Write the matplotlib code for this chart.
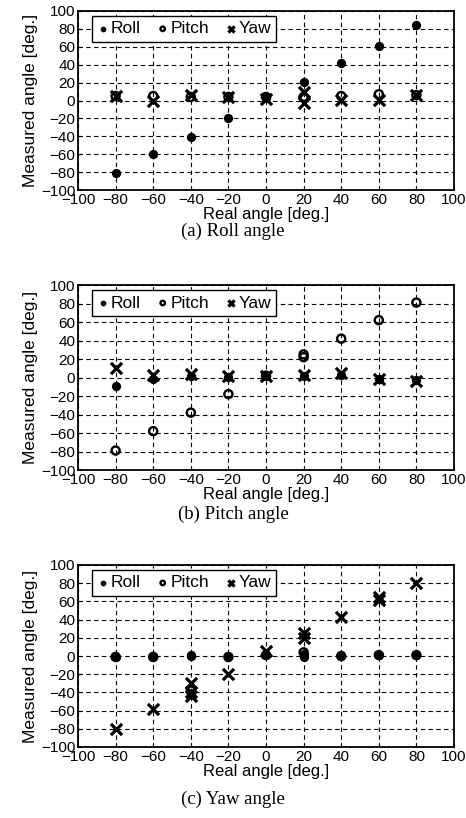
import numpy as np
import matplotlib
matplotlib.use("Agg")
import matplotlib.pyplot as plt

plt.rcParams['font.family'] = ['Liberation Sans', 'DejaVu Sans']

# real angles (deg.)
real = [-80, -60, -40, -20, 0, 20, 40, 60, 80]

# (a) roll angle test
roll_a = [-81, -60, -41, -19, 3, 21, 42, 61, 84]
pitch_a = [5, 5, 4, 4, 4, 4, 5, 7, 6]
yaw_a_x = [-80, -60, -40, -20, 0, 20, 20, 40, 60, 80]
yaw_a = [5, 0, 6, 4, 2, 10, -3, 1, 1, 6]

# (b) pitch angle test
roll_b = [-9, -2, 2, 1, 2, 2, 3, -2, -3]
pitch_b_x = [-80, -60, -40, -20, 0, 20, 20, 40, 60, 80]
pitch_b = [-79, -58, -38, -18, 2, 22, 25, 42, 62, 81]
yaw_b = [10, 3, 4, 2, 2, 3, 5, -2, -4]

# (c) yaw angle test
roll_c_x = [-80, -60, -40, -40, -20, 0, 20, 20, 40, 60, 80]
roll_c = [-1, -1, 0, 1, -1, 1, -1, 2, 0, 1, 1]
pitch_c = [-1, -1, -38, -1, 1, 4, 0, 1, 1]
yaw_c_x = [-80, -60, -40, -40, -40, -20, 0, 20, 20, 40, 60, 60, 80]
yaw_c = [-80, -58, -30, -40, -44, -20, 5, 20, 25, 43, 62, 65, 80]

captions = ["(a) Roll angle", "(b) Pitch angle", "(c) Yaw angle"]
panels = [
    (real, roll_a, real, pitch_a, yaw_a_x, yaw_a),
    (real, roll_b, pitch_b_x, pitch_b, real, yaw_b),
    (roll_c_x, roll_c, real, pitch_c, yaw_c_x, yaw_c),
]

W, H = 466, 818
fig = plt.figure(figsize=(W / 100, H / 100), dpi=100)

# axes boxes in pixels: (top, bottom), caption y
boxes = [(11, 190, 231), (285, 470, 514), (565, 747, 799)]
left, right = 78, 454

ticks = np.arange(-100, 101, 20)

for (top, bot, cap_y), cap, (rx, ry, px, py, yx, yy) in zip(boxes, captions, panels):
    ax = fig.add_axes([left / W, 1 - bot / H, (right - left) / W, (bot - top) / H])
    ax.scatter(rx, ry, marker='o', s=32, color='black', zorder=3, label='Roll')
    ax.scatter(px, py, marker='o', s=34, facecolors='none', edgecolors='black',
               linewidths=1.7, zorder=3, label='Pitch')
    ax.scatter(yx, yy, marker='x', s=65, color='black', linewidths=2.3, zorder=4, label='Yaw')

    ax.set_xlim(-100, 100)
    ax.set_ylim(-100, 100)
    ax.set_xticks(ticks)
    ax.set_yticks(ticks)
    ax.tick_params(direction='in', length=2, labelsize=11, pad=2, colors='black')
    ax.grid(True, linestyle=(0, (4, 3)), color='black', linewidth=0.8)
    for sp in ax.spines.values():
        sp.set_linewidth(1.3)
    ax.set_xlabel('Real angle [deg.]', fontsize=12, labelpad=0)
    ax.set_ylabel('Measured angle [deg.]', fontsize=12.5, labelpad=2)

    leg = ax.legend(loc='upper left', ncol=3, fontsize=12.5, frameon=True, fancybox=False,
                    edgecolor='black', framealpha=1, handlelength=0.7, handletextpad=0.1,
                    columnspacing=0.9, markerscale=0.55, borderpad=0.3, borderaxespad=0,
                    bbox_to_anchor=(0.037, 0.972))
    leg.get_frame().set_linewidth(1.0)

    fig.text(0.5, 1 - cap_y / H, cap, ha='center', va='center', fontsize=13.5,
             family=['Liberation Serif', 'DejaVu Serif'])

fig.savefig('out.png', dpi=100)
